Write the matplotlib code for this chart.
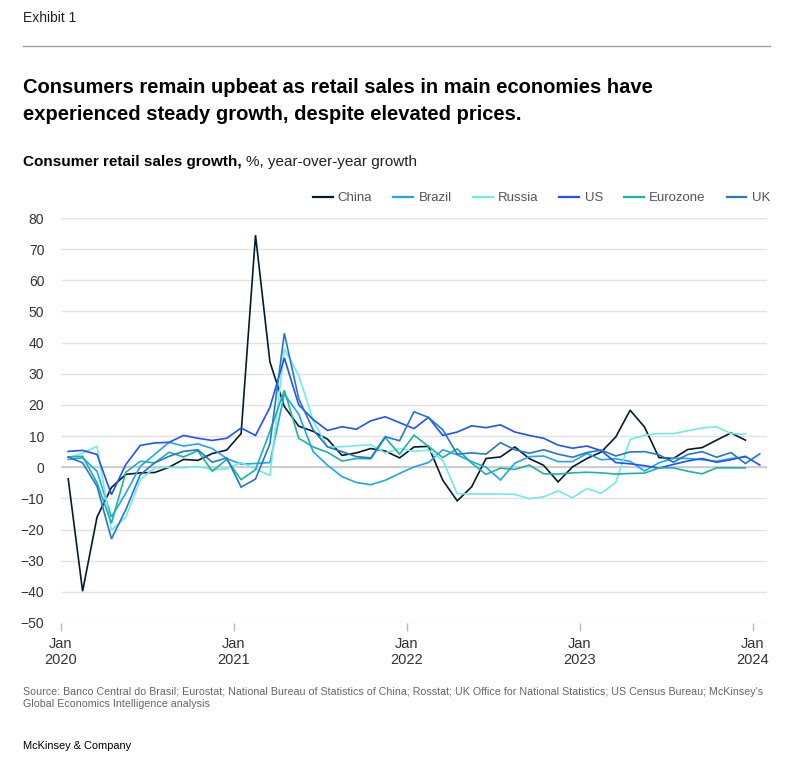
import numpy as np
import matplotlib
matplotlib.use("Agg")
import matplotlib.pyplot as plt

plt.rcParams['font.family'] = ['Liberation Sans', 'DejaVu Sans']

# monthly yoy growth, Jan 2020 onwards
china = [-3.7, -39.8, -16.0, -6.5, -2.3, -1.8, -1.7, 0.0, 2.5, 2.2, 4.4, 5.5,
         10.8, 74.5, 33.8, 19.5, 13.2, 11.5, 9.0, 3.8, 4.6, 6.0, 5.2, 3.0,
         6.5, 6.7, -4.2, -10.8, -6.3, 2.8, 3.3, 6.5, 2.8, 0.6, -4.7, 0.1,
         2.8, 4.9, 9.7, 18.3, 12.9, 3.1, 2.8, 5.7, 6.3, 8.7, 11.0, 8.7]
brazil = [2.5, 3.0, -1.3, -16.0, -8.3, 0.3, 4.1, 8.0, 6.8, 7.5, 6.0, 2.8,
          1.0, 1.2, 1.5, 23.5, 17.0, 5.0, 0.6, -3.0, -4.9, -5.6, -4.2, -2.0,
          0.1, 1.5, 5.6, 4.0, 1.8, 0.0, -4.1, 1.3, 3.4, 3.6, 1.8, 1.8,
          4.4, 2.4, 2.7, 1.9, -1.2, 1.4, 2.9, 2.8, 2.4, 1.9, 2.8, 3.3]
russia = [3.0, 4.5, 6.7, -20.2, -16.0, -4.0, -0.2, 0.0, -0.2, 0.3, -0.8, -0.5,
          1.5, -0.5, -2.7, 38.0, 29.5, 15.0, 6.5, 6.6, 6.9, 7.2, 4.6, 6.0,
          5.1, 5.5, 2.2, -8.5, -8.6, -8.6, -8.6, -8.7, -10.1, -9.5, -7.6, -9.8,
          -6.8, -8.4, -4.9, 8.9, 10.3, 10.8, 10.8, 11.7, 12.6, 13.0, 10.8, 10.6]
us = [5.1, 5.4, 4.1, -8.8, 0.9, 7.0, 7.8, 8.0, 10.2, 9.3, 8.6, 9.3,
      12.6, 10.2, 19.2, 35.1, 20.0, 15.3, 11.8, 13.0, 12.2, 14.9, 16.2, 14.3,
      12.4, 16.0, 10.2, 11.3, 13.3, 12.7, 13.6, 11.3, 10.2, 9.3, 7.1, 6.1,
      6.8, 5.3, 1.5, 1.1, 0.5, -0.3, 0.9, 2.0, 2.8, 1.6, 2.4, 3.5,
      0.7]
eurozone = [3.3, 3.5, -5.0, -18.0, -1.6, 1.9, 1.4, 4.8, 3.3, 5.3, -1.3, 2.5,
            -4.0, -0.8, 11.5, 24.7, 9.3, 6.5, 4.8, 2.0, 2.8, 2.7, 9.5, 4.2,
            10.3, 6.7, 3.1, 5.9, 1.3, -2.3, -0.3, -0.7, 0.7, -2.1, -2.2, -1.8,
            -1.6, -1.8, -2.2, -2.0, -1.9, -0.2, -0.2, -1.3, -2.1, -0.2, -0.2, -0.2]
uk = [3.3, 1.4, -6.1, -23.0, -13.6, -2.4, 1.4, 3.5, 5.1, 5.6, 1.6, 3.0,
      -6.4, -3.8, 7.5, 43.0, 22.0, 12.0, 6.5, 5.0, 3.4, 3.0, 9.8, 8.5,
      17.8, 16.0, 12.0, 4.2, 4.6, 4.2, 7.9, 5.6, 4.5, 5.6, 4.2, 3.2,
      4.7, 5.5, 3.6, 4.9, 5.0, 4.0, 1.6, 4.1, 5.0, 3.2, 4.7, 1.2,
      4.3]

names = ['China', 'Brazil', 'Russia', 'US', 'Eurozone', 'UK']
series = [china, brazil, russia, us, eurozone, uk]
colors = ['#051c2c', '#1ea6f2', '#72ebe6', '#2251ff', '#1db3a3', '#2676cf']

year_labels = ['Jan\n2020', 'Jan\n2021', 'Jan\n2022', 'Jan\n2023', 'Jan\n2024']
year_ticks = [0, 12, 24, 36, 48]
y_ticks = list(range(-50, 81, 10))

W, H = 801, 768
fig = plt.figure(figsize=(W / 100, H / 100), dpi=100)
ax = fig.add_axes([61 / W, 1 - 623 / H, (767 - 61) / W, (623 - 218) / H])

for vals, name, c in zip(series, names, colors):
    x = np.arange(len(vals)) + 0.5
    ax.plot(x, vals, color=c, lw=1.2, label=name, solid_joinstyle='miter')

ax.set_xlim(0, 49)
ax.set_ylim(-50, 80)
ax.set_yticks(y_ticks)
ax.set_yticklabels([str(v).replace('-', '\u2212') for v in y_ticks])
ax.set_xticks(year_ticks)
ax.set_xticklabels(year_labels)
ax.grid(axis='y', color='#e2e2e2', lw=1)
ax.axhline(0, color='#c8c8c8', lw=1.2, zorder=1)
ax.set_axisbelow(True)
for s in ax.spines.values():
    s.set_visible(False)
ax.tick_params(axis='y', length=0, pad=12, labelsize=10, labelcolor='#333333')
ax.tick_params(axis='x', length=6, width=1, color='#bbbbbb', pad=4,
               labelsize=10.5, labelcolor='#333333')

leg = fig.legend(loc='center right', bbox_to_anchor=(782 / W, 1 - 198 / H),
                 ncol=6, frameon=False, fontsize=9.5, handlelength=1.5,
                 handletextpad=0.4, columnspacing=1.6, labelcolor='#555555')
for line in leg.get_lines():
    line.set_linewidth(1.6)

fig.text(23 / W, 1 - 18 / H, 'Exhibit 1', fontsize=10, va='center', color='#222222')
fig.add_artist(plt.Line2D([23 / W, 770 / W], [1 - 46 / H, 1 - 46 / H],
                          color='#a0a0a0', lw=1))
fig.text(23 / W, 1 - 101 / H,
         'Consumers remain upbeat as retail sales in main economies have\n'
         'experienced steady growth, despite elevated prices.',
         fontsize=14.5, fontweight='bold', va='center', color='#000000',
         linespacing=1.5)

t1 = fig.text(23 / W, 1 - 162 / H, 'Consumer retail sales growth,', fontsize=11,
              fontweight='bold', va='center', color='#000000')
fig.canvas.draw()
bb = t1.get_window_extent()
fig.text(bb.x1 / W + 4 / W, 1 - 162 / H, '%, year-over-year growth', fontsize=11,
         va='center', color='#222222')

fig.text(23 / W, 1 - 698 / H,
         "Source: Banco Central do Brasil; Eurostat; National Bureau of Statistics of China; "
         "Rosstat; UK Office for National Statistics; US Census Bureau; McKinsey's\n"
         "Global Economics Intelligence analysis",
         fontsize=7.7, va='center', color='#666666', linespacing=1.25)
fig.text(23 / W, 1 - 746 / H, 'McKinsey & Company', fontsize=7.9, va='center',
         color='#000000')

fig.savefig('out.png', dpi=100)
